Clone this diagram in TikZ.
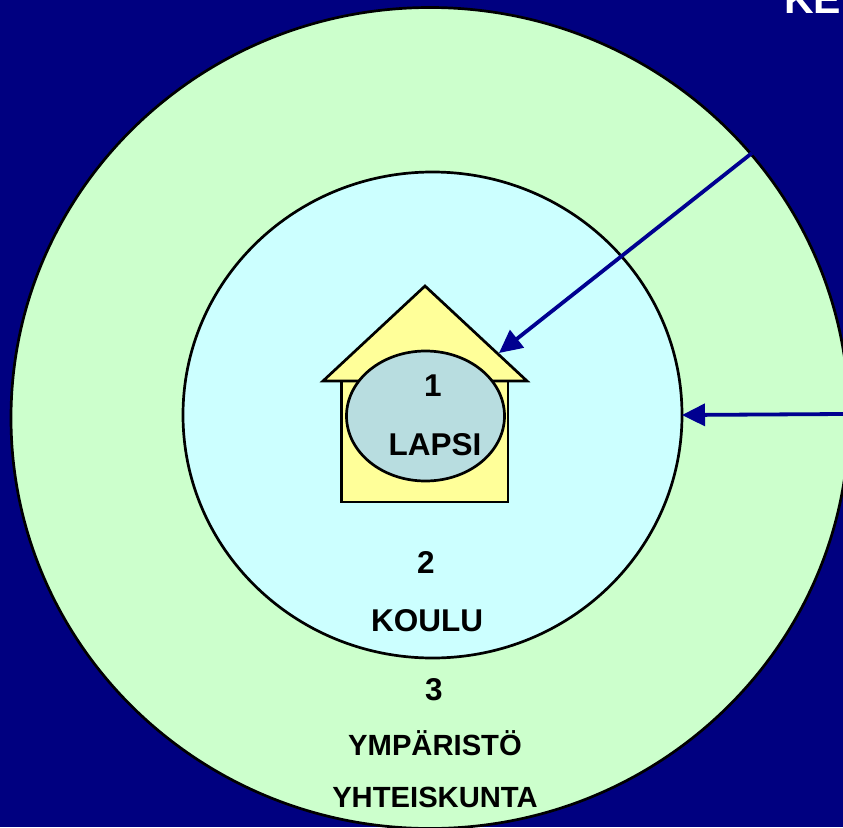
\documentclass[tikz,border=0pt]{standalone}
\usepackage{fontspec}
\setmainfont{Liberation Sans}
\usetikzlibrary{shapes.geometric,arrows.meta}
\definecolor{navybg}{HTML}{000080}
\definecolor{arrownavy}{HTML}{000090}
\definecolor{outergreen}{HTML}{CCFFCC}
\definecolor{innercyan}{HTML}{CCFFFF}
\definecolor{houseyellow}{HTML}{FFFF99}
\definecolor{childblue}{HTML}{B8DDE0}
\tikzset{
  ring/.style={ellipse,draw=black,line width=2.7pt,inner sep=0pt},
  houseshape/.style={draw=black,line width=2.7pt,fill=houseyellow,line join=miter},
  label text/.style={anchor=base,inner sep=0pt,font=\bfseries\fontsize{30}{30}\selectfont,text=black},
  big label/.style={label text,font=\bfseries\fontsize{31.5}{31.5}\selectfont},
  small label/.style={label text,font=\bfseries\fontsize{29.2}{29.2}\selectfont},
  pointer/.style={draw=arrownavy,line width=3.8pt,-{Triangle[length=23pt,width=22pt]}}
}
\begin{document}
\begin{tikzpicture}[x=1pt,y=-1pt]
\useasboundingbox (0,0) rectangle (843,827);
\clip (0,0) rectangle (843,827);
\fill[navybg] (0,0) rectangle (843,827);
\node[anchor=base west,inner sep=0pt,font=\bfseries\fontsize{41}{41}\selectfont,text=white] (title) at (784,13.5) {KE};
\node[ring,fill=outergreen,minimum width=838pt,minimum height=821pt] (outer) at (430,418) {};
\node[ring,fill=innercyan,minimum width=499pt,minimum height=486pt] (inner) at (432.5,415) {};
\draw[houseshape] (341.5,381) rectangle (508,502);
\draw[houseshape] (425,286) -- (527,381) -- (323,381) -- cycle;
\node[ring,fill=childblue,minimum width=158pt,minimum height=130pt] (child) at (425.5,416) {};
\node[big label] (n1) at (433,396.5) {1};
\node[big label] (lapsi) at (435,455) {LAPSI};
\node[big label] (n2) at (426,573.5) {2};
\node[big label] (koulu) at (427,631) {KOULU};
\node[big label] (n3) at (434,700.5) {3};
\node[small label] (ymparisto) at (435,755) {YMPÄRISTÖ};
\node[small label] (yhteiskunta) at (435,807) {YHTEISKUNTA};
\coordinate (a1s) at (752,153);
\coordinate (a1e) at (499,353);
\coordinate (a2s) at (843,414);
\coordinate (a2e) at (682,415);
\draw[pointer] (a1s) -- (a1e);
\draw[pointer] (a2s) -- (a2e);
\end{tikzpicture}
\end{document}
